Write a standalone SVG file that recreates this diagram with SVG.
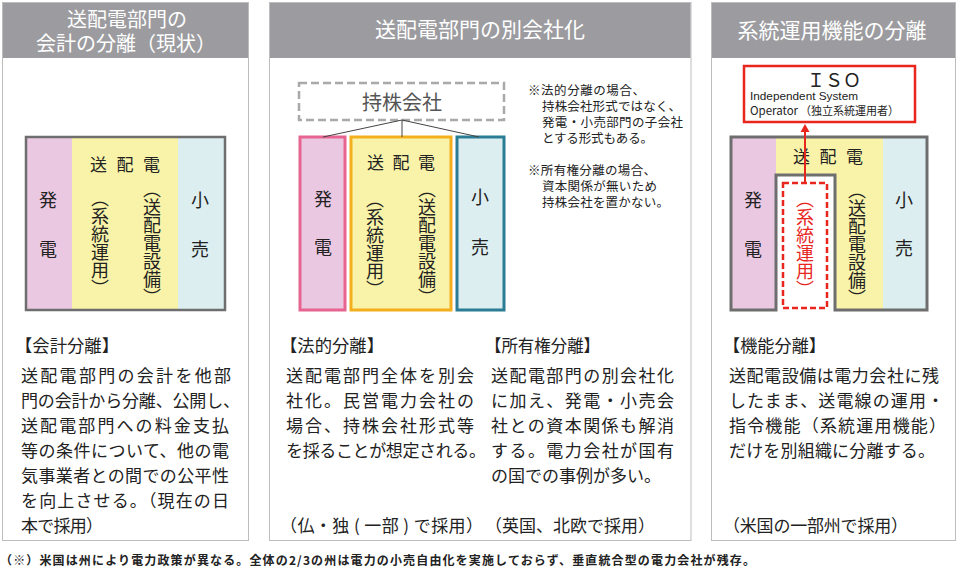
<svg xmlns="http://www.w3.org/2000/svg" width="960" height="573" viewBox="0 0 960 573">
<style>
text{font-family:"Noto Sans CJK JP","Noto Sans",sans-serif;fill:#222}
.hd{fill:#fff;font-size:20px;text-anchor:middle}
.panel{fill:#fff;stroke:#bdbdbd;stroke-width:1}
.hbar{fill:#9c9ca0}
.body{font-size:17px}
.lbl{font-size:18px;text-anchor:middle}
.vt{font-size:18px;writing-mode:vertical-rl;text-anchor:middle}
.spd{font-size:17px;text-anchor:middle}
.note{font-size:12.5px}
.pink{fill:#ebc8e2}
.yel{fill:#f8f3a8}
.blu{fill:#ddeef1}
.conn{stroke:#444;stroke-width:1;fill:none}
.red{stroke:#e8261e;stroke-width:2;fill:none}
</style>
<rect width="960" height="573" fill="#fff"/>

<!-- Panel 1 -->
<g id="panel1">
<rect class="panel" x="2.5" y="2.5" width="246" height="538"/>
<rect class="hbar" x="3" y="3" width="245" height="55"/>
<text class="hd" x="127" y="27">送配電部門の</text>
<text class="hd" x="126" y="51">会計の分離（現状）</text>
</g>
<g id="p1-diagram">
<rect class="pink" x="26" y="137" width="46" height="173"/>
<rect class="yel" x="72" y="137" width="106" height="173"/>
<rect class="blu" x="178" y="137" width="47" height="173"/>
<rect x="26" y="137" width="199" height="173" fill="none" stroke="#6e6e6e" stroke-width="2.5"/>
<text class="lbl" x="48" y="207">発</text>
<text class="lbl" x="48" y="256">電</text>
<text class="spd" x="125" y="171" textLength="70" lengthAdjust="spacing">送 配 電</text>
<text class="vt" x="100" y="243">（系統運用）</text>
<text class="vt" x="152" y="243">（送配電設備）</text>
<text class="lbl" x="200" y="207">小</text>
<text class="lbl" x="200" y="256">売</text>
</g>
<g id="p1-text" class="body">
<text x="15" y="352" textLength="104" lengthAdjust="spacingAndGlyphs">【会計分離】</text>
<text x="21" y="382" textLength="210" lengthAdjust="spacing">送配電部門の会計を他部</text>
<text x="21" y="407" textLength="219" lengthAdjust="spacing">門の会計から分離、公開し、</text>
<text x="21" y="432" textLength="208" lengthAdjust="spacing">送配電部門への料金支払</text>
<text x="21" y="457" textLength="208" lengthAdjust="spacing">等の条件について、他の電</text>
<text x="21" y="482" textLength="208" lengthAdjust="spacing">気事業者との間での公平性</text>
<text x="21" y="507" textLength="208" lengthAdjust="spacing">を向上させる。（現在の日</text>
<text x="21" y="532" textLength="82" lengthAdjust="spacing">本で採用）</text>
</g>

<!-- Panel 2 -->
<g id="panel2">
<rect class="panel" x="269.5" y="2.5" width="421.5" height="538"/>
<rect class="hbar" x="270" y="3" width="420.5" height="55"/>
<text class="hd" x="480" y="37" style="font-size:21px">送配電部門の別会社化</text>
</g>
<g id="holding">
<rect x="299" y="83" width="205" height="37" fill="#fff" stroke="#a9a9a9" stroke-width="2.5" stroke-dasharray="8 4"/>
<text x="402" y="110" style="font-size:20px;text-anchor:middle;fill:#555">持株会社</text>
</g>
<g id="p2-gen">
<rect class="pink" x="300" y="137" width="45" height="173" stroke="#e6648f" stroke-width="3"/>
<text class="lbl" x="323" y="206">発</text>
<text class="lbl" x="323" y="254">電</text>
</g>
<g id="p2-td">
<rect class="yel" x="351" y="137" width="100" height="173" stroke="#f3af1e" stroke-width="3"/>
<text class="spd" x="401" y="169" textLength="68" lengthAdjust="spacing">送 配 電</text>
<text class="vt" x="375" y="244">（系統運用）</text>
<text class="vt" x="427" y="243">（送配電設備）</text>
</g>
<g id="p2-retail">
<rect class="blu" x="457" y="137" width="47" height="173" stroke="#2b7d95" stroke-width="3"/>
<text class="lbl" x="480" y="204">小</text>
<text class="lbl" x="480" y="254">売</text>
</g>
<g id="p2-notes" class="note">
<text x="528" y="95" textLength="117" lengthAdjust="spacing">※法的分離の場合、</text>
<text x="542" y="111" textLength="139" lengthAdjust="spacing">持株会社形式ではなく、</text>
<text x="542" y="127" textLength="141" lengthAdjust="spacing">発電・小売部門の子会社</text>
<text x="542" y="143" textLength="111" lengthAdjust="spacing">とする形式もある。</text>
<text x="528" y="175" textLength="128" lengthAdjust="spacing">※所有権分離の場合、</text>
<text x="542" y="191" textLength="115" lengthAdjust="spacing">資本関係が無いため</text>
<text x="542" y="207" textLength="127" lengthAdjust="spacing">持株会社を置かない。</text>
</g>
<g id="p2-text" class="body">
<text x="280" y="352" textLength="104" lengthAdjust="spacingAndGlyphs">【法的分離】</text>
<text x="286" y="382" textLength="188" lengthAdjust="spacing">送配電部門全体を別会</text>
<text x="286" y="407" textLength="188" lengthAdjust="spacing">社化。民営電力会社の</text>
<text x="286" y="432" textLength="188" lengthAdjust="spacing">場合、持株会社形式等</text>
<text x="286" y="457" textLength="200" lengthAdjust="spacing">を採ることが想定される。</text>
<text x="280" y="532" textLength="203" lengthAdjust="spacing">（仏・独 ( 一部 ) で採用）</text>
<text x="485" y="352" textLength="115" lengthAdjust="spacingAndGlyphs">【所有権分離】</text>
<text x="491" y="382" textLength="183" lengthAdjust="spacing">送配電部門の別会社化</text>
<text x="491" y="407" textLength="183" lengthAdjust="spacing">に加え、発電・小売会</text>
<text x="491" y="432" textLength="183" lengthAdjust="spacing">社との資本関係も解消</text>
<text x="491" y="457" textLength="183" lengthAdjust="spacing">する。電力会社が国有</text>
<text x="491" y="482" textLength="170" lengthAdjust="spacing">の国での事例が多い。</text>
<text x="485" y="532" textLength="170" lengthAdjust="spacing">（英国、北欧で採用）</text>
</g>

<!-- Panel 3 -->
<g id="panel3">
<rect class="panel" x="711.5" y="2.5" width="244" height="538"/>
<rect class="hbar" x="712" y="3" width="243" height="55"/>
<text class="hd" x="832" y="38" style="font-size:21px">系統運用機能の分離</text>
</g>
<g id="iso">
<rect x="744" y="66" width="171" height="56" fill="#fff" stroke="#e8261e" stroke-width="2.5"/>
<text x="834" y="87" style="font-size:18px;text-anchor:middle">ＩＳＯ</text>
<text x="750" y="100" style="font-family:'Liberation Sans',Arial,sans-serif;font-size:11.5px" textLength="108" lengthAdjust="spacingAndGlyphs">Independent System</text>
<text x="750" y="115" style="font-size:11.5px">Operator<tspan x="800" textLength="99" lengthAdjust="spacingAndGlyphs">（独立系統運用者）</tspan></text>
</g>
<g id="p3-company">
<rect class="pink" x="731" y="137" width="45" height="173"/>
<rect class="yel" x="776" y="137" width="107" height="173"/>
<rect class="blu" x="883" y="137" width="44" height="173"/>
<rect x="776" y="175" width="59" height="136" fill="#fff"/>
<path d="M731,137 H927 V310 H835 V175 H776 V310 H731 Z" fill="none" stroke="#6e6e6e" stroke-width="3"/>
<text class="lbl" x="753" y="207">発</text>
<text class="lbl" x="753" y="256">電</text>
<text class="spd" x="828" y="163" textLength="70" lengthAdjust="spacing">送 配 電</text>
<text class="vt" x="857" y="244">（送配電設備）</text>
<text class="lbl" x="904" y="207">小</text>
<text class="lbl" x="904" y="255">売</text>
</g>
<g id="p3-sysop">
<rect x="783" y="183" width="44" height="125" fill="none" stroke="#e8261e" stroke-width="2.5" stroke-dasharray="6 3"/>
<text class="vt" x="805" y="244" style="fill:#e8261e">（系統運用）</text>
</g>
<g id="p3-text" class="body">
<text x="723" y="352" textLength="103" lengthAdjust="spacingAndGlyphs">【機能分離】</text>
<text x="729" y="382" textLength="210" lengthAdjust="spacing">送配電設備は電力会社に残</text>
<text x="729" y="407" textLength="215" lengthAdjust="spacing">したまま、送電線の運用・</text>
<text x="729" y="432" textLength="217" lengthAdjust="spacing">指令機能（系統運用機能）</text>
<text x="729" y="457" textLength="206" lengthAdjust="spacing">だけを別組織に分離する。</text>
<text x="723" y="532" textLength="185" lengthAdjust="spacing">（米国の一部州で採用）</text>
</g>

<g id="connectors">
<path class="conn" d="M402,120 L323,137 M402,120 L402,137 M402,120 L479,137"/>
<path class="red" d="M805,183 V130"/>
<path d="M800.5,132 L805,124 L809.5,132 Z" fill="#e8261e"/>
</g>

<g id="footnote">
<text x="0" y="565" style="font-size:12px;font-weight:bold" textLength="755" lengthAdjust="spacing">（※）米国は州により電力政策が異なる。全体の2/3の州は電力の小売自由化を実施しておらず、垂直統合型の電力会社が残存。</text>
</g>
</svg>
